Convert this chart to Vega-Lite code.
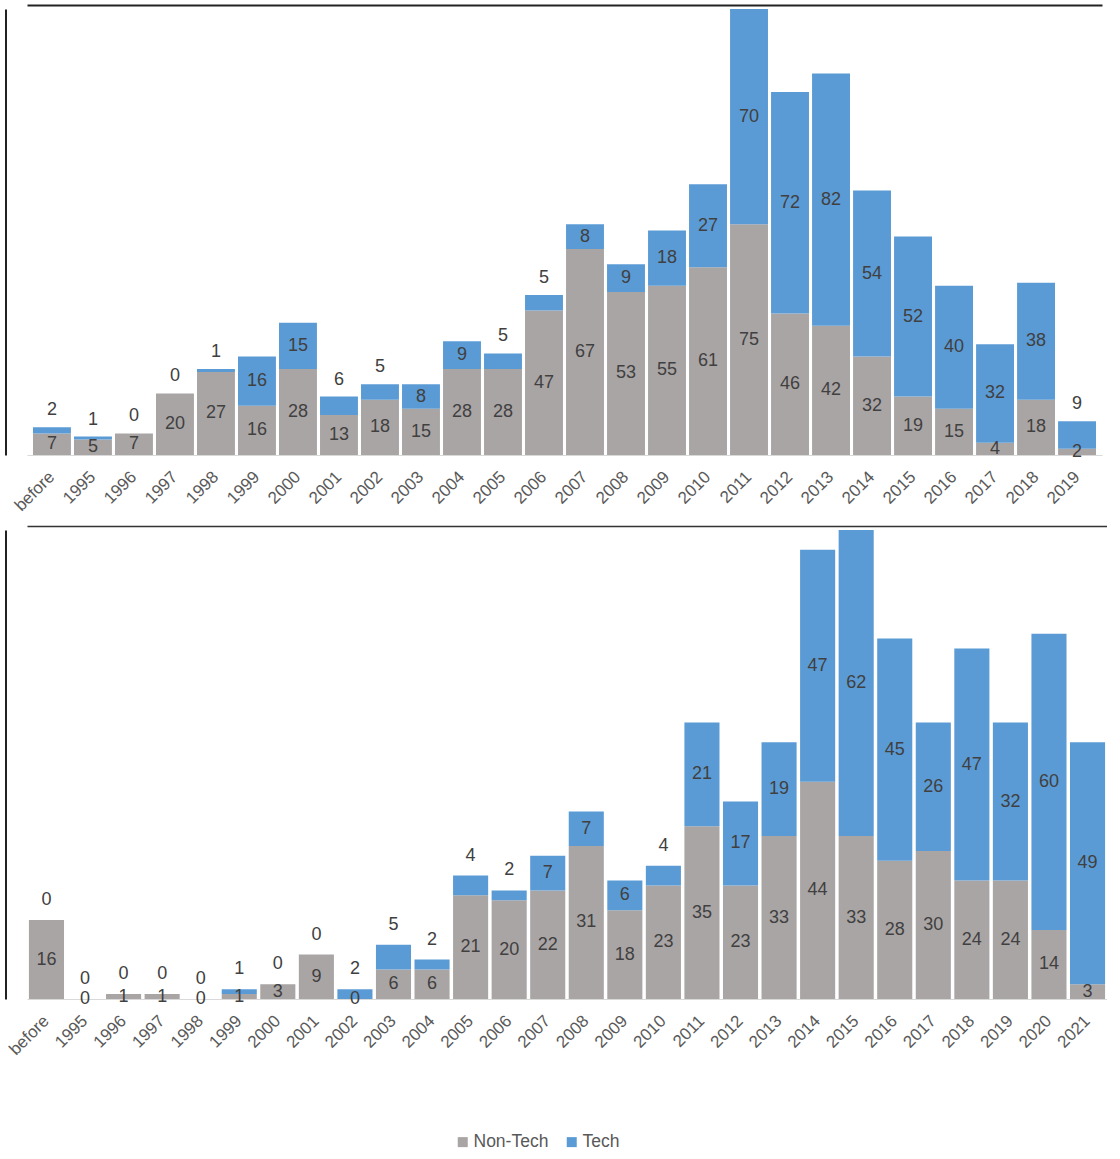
{
  "$schema": "https://vega.github.io/schema/vega-lite/v6.json",
  "padding": {"left": 5, "top": 5, "right": 0, "bottom": 0},
  "background": "white",
  "config": {
    "view": {"stroke": null},
    "font": "Liberation Sans",
    "axis": {"grid": false},
    "text": {"font": "Liberation Sans"}
  },
  "datasets": {
    "top": [
      {"period": "before", "group": "Non-Tech", "count": 7}, {"period": "before", "group": "Tech", "count": 2},
      {"period": "1995", "group": "Non-Tech", "count": 5}, {"period": "1995", "group": "Tech", "count": 1},
      {"period": "1996", "group": "Non-Tech", "count": 7}, {"period": "1996", "group": "Tech", "count": 0},
      {"period": "1997", "group": "Non-Tech", "count": 20}, {"period": "1997", "group": "Tech", "count": 0},
      {"period": "1998", "group": "Non-Tech", "count": 27}, {"period": "1998", "group": "Tech", "count": 1},
      {"period": "1999", "group": "Non-Tech", "count": 16}, {"period": "1999", "group": "Tech", "count": 16},
      {"period": "2000", "group": "Non-Tech", "count": 28}, {"period": "2000", "group": "Tech", "count": 15},
      {"period": "2001", "group": "Non-Tech", "count": 13}, {"period": "2001", "group": "Tech", "count": 6},
      {"period": "2002", "group": "Non-Tech", "count": 18}, {"period": "2002", "group": "Tech", "count": 5},
      {"period": "2003", "group": "Non-Tech", "count": 15}, {"period": "2003", "group": "Tech", "count": 8},
      {"period": "2004", "group": "Non-Tech", "count": 28}, {"period": "2004", "group": "Tech", "count": 9},
      {"period": "2005", "group": "Non-Tech", "count": 28}, {"period": "2005", "group": "Tech", "count": 5},
      {"period": "2006", "group": "Non-Tech", "count": 47}, {"period": "2006", "group": "Tech", "count": 5},
      {"period": "2007", "group": "Non-Tech", "count": 67}, {"period": "2007", "group": "Tech", "count": 8},
      {"period": "2008", "group": "Non-Tech", "count": 53}, {"period": "2008", "group": "Tech", "count": 9},
      {"period": "2009", "group": "Non-Tech", "count": 55}, {"period": "2009", "group": "Tech", "count": 18},
      {"period": "2010", "group": "Non-Tech", "count": 61}, {"period": "2010", "group": "Tech", "count": 27},
      {"period": "2011", "group": "Non-Tech", "count": 75}, {"period": "2011", "group": "Tech", "count": 70},
      {"period": "2012", "group": "Non-Tech", "count": 46}, {"period": "2012", "group": "Tech", "count": 72},
      {"period": "2013", "group": "Non-Tech", "count": 42}, {"period": "2013", "group": "Tech", "count": 82},
      {"period": "2014", "group": "Non-Tech", "count": 32}, {"period": "2014", "group": "Tech", "count": 54},
      {"period": "2015", "group": "Non-Tech", "count": 19}, {"period": "2015", "group": "Tech", "count": 52},
      {"period": "2016", "group": "Non-Tech", "count": 15}, {"period": "2016", "group": "Tech", "count": 40},
      {"period": "2017", "group": "Non-Tech", "count": 4}, {"period": "2017", "group": "Tech", "count": 32},
      {"period": "2018", "group": "Non-Tech", "count": 18}, {"period": "2018", "group": "Tech", "count": 38},
      {"period": "2019", "group": "Non-Tech", "count": 2}, {"period": "2019", "group": "Tech", "count": 9}
    ],
    "bottom": [
      {"period": "before", "group": "Non-Tech", "count": 16}, {"period": "before", "group": "Tech", "count": 0},
      {"period": "1995", "group": "Non-Tech", "count": 0}, {"period": "1995", "group": "Tech", "count": 0},
      {"period": "1996", "group": "Non-Tech", "count": 1}, {"period": "1996", "group": "Tech", "count": 0},
      {"period": "1997", "group": "Non-Tech", "count": 1}, {"period": "1997", "group": "Tech", "count": 0},
      {"period": "1998", "group": "Non-Tech", "count": 0}, {"period": "1998", "group": "Tech", "count": 0},
      {"period": "1999", "group": "Non-Tech", "count": 1}, {"period": "1999", "group": "Tech", "count": 1},
      {"period": "2000", "group": "Non-Tech", "count": 3}, {"period": "2000", "group": "Tech", "count": 0},
      {"period": "2001", "group": "Non-Tech", "count": 9}, {"period": "2001", "group": "Tech", "count": 0},
      {"period": "2002", "group": "Non-Tech", "count": 0}, {"period": "2002", "group": "Tech", "count": 2},
      {"period": "2003", "group": "Non-Tech", "count": 6}, {"period": "2003", "group": "Tech", "count": 5},
      {"period": "2004", "group": "Non-Tech", "count": 6}, {"period": "2004", "group": "Tech", "count": 2},
      {"period": "2005", "group": "Non-Tech", "count": 21}, {"period": "2005", "group": "Tech", "count": 4},
      {"period": "2006", "group": "Non-Tech", "count": 20}, {"period": "2006", "group": "Tech", "count": 2},
      {"period": "2007", "group": "Non-Tech", "count": 22}, {"period": "2007", "group": "Tech", "count": 7},
      {"period": "2008", "group": "Non-Tech", "count": 31}, {"period": "2008", "group": "Tech", "count": 7},
      {"period": "2009", "group": "Non-Tech", "count": 18}, {"period": "2009", "group": "Tech", "count": 6},
      {"period": "2010", "group": "Non-Tech", "count": 23}, {"period": "2010", "group": "Tech", "count": 4},
      {"period": "2011", "group": "Non-Tech", "count": 35}, {"period": "2011", "group": "Tech", "count": 21},
      {"period": "2012", "group": "Non-Tech", "count": 23}, {"period": "2012", "group": "Tech", "count": 17},
      {"period": "2013", "group": "Non-Tech", "count": 33}, {"period": "2013", "group": "Tech", "count": 19},
      {"period": "2014", "group": "Non-Tech", "count": 44}, {"period": "2014", "group": "Tech", "count": 47},
      {"period": "2015", "group": "Non-Tech", "count": 33}, {"period": "2015", "group": "Tech", "count": 62},
      {"period": "2016", "group": "Non-Tech", "count": 28}, {"period": "2016", "group": "Tech", "count": 45},
      {"period": "2017", "group": "Non-Tech", "count": 30}, {"period": "2017", "group": "Tech", "count": 26},
      {"period": "2018", "group": "Non-Tech", "count": 24}, {"period": "2018", "group": "Tech", "count": 47},
      {"period": "2019", "group": "Non-Tech", "count": 24}, {"period": "2019", "group": "Tech", "count": 32},
      {"period": "2020", "group": "Non-Tech", "count": 14}, {"period": "2020", "group": "Tech", "count": 60},
      {"period": "2021", "group": "Non-Tech", "count": 3}, {"period": "2021", "group": "Tech", "count": 49}
    ]
  },
  "bounds": "flush",
  "spacing": 75,
  "vconcat": [
    {
      "width": 1075,
      "height": 446,
      "data": {"name": "top"},
      "transform": [
        {"stack": "count", "groupby": ["period"], "sort": [{"field": "group", "order": "ascending"}], "as": ["y0", "y1"]},
        {"joinaggregate": [{"op": "sum", "field": "count", "as": "total"}], "groupby": ["period"]},
        {"calculate": "(datum.y0 + datum.y1) / 2", "as": "mid"}
      ],
      "resolve": {"axis": {"x": "independent", "y": "independent"}},
      "layer": [
        {
          "mark": {"type": "bar"},
          "encoding": {
            "x": {"field": "period", "type": "ordinal", "sort": null, "title": null,
              "scale": {"paddingInner": 0.075, "paddingOuter": 0.146},
              "axis": {"labelAngle": -45, "labelFontSize": 17, "labelColor": "#595959", "labelBaseline": "middle", "ticks": false, "domainColor": "#d9d9d9", "labelPadding": 19}},
            "y": {"field": "y1", "type": "quantitative", "title": null,
              "scale": {"domain": [0, 145], "nice": false, "zero": true},
              "axis": {"orient": "left", "offset": 21.5, "labels": false, "ticks": false, "domainColor": "#222222", "domainWidth": 2}},
            "y2": {"field": "y0"},
            "color": {"field": "group", "type": "nominal", "title": null,
              "scale": {"domain": ["Non-Tech", "Tech"], "range": ["#aaa5a5", "#5b9bd5"]},
              "legend": {"orient": "none", "direction": "horizontal", "legendX": 427, "legendY": 1124,
                "symbolType": "square", "symbolSize": 100, "symbolStrokeWidth": 0, "labelFontSize": 17.5,
                "labelColor": "#595959", "columnPadding": 14, "labelOffset": 2}}
          }
        },
        {
          "transform": [{"filter": "datum.group == 'Non-Tech' || (datum.count >= 8 && datum.total >= 15)"}],
          "mark": {"type": "text", "fontSize": 18, "color": "#404040", "baseline": "middle"},
          "encoding": {
            "x": {"field": "period", "type": "ordinal", "sort": null, "title": null,
              "axis": {"orient": "top", "labels": false, "ticks": false, "offset": 4, "domainColor": "#222222", "domainWidth": 2}},
            "y": {"field": "mid", "type": "quantitative", "axis": null},
            "text": {"field": "count", "type": "quantitative"}
          }
        },
        {
          "transform": [{"filter": "datum.group == 'Tech' && (datum.count < 8 || datum.total < 15)"}],
          "mark": {"type": "text", "fontSize": 18, "color": "#404040", "baseline": "middle", "dy": -17},
          "encoding": {
            "x": {"field": "period", "type": "ordinal", "sort": null, "axis": null},
            "y": {"field": "y1", "type": "quantitative", "axis": null},
            "text": {"field": "count", "type": "quantitative"}
          }
        }
      ]
    },
    {
      "width": 1080,
      "height": 469,
      "data": {"name": "bottom"},
      "transform": [
        {"stack": "count", "groupby": ["period"], "sort": [{"field": "group", "order": "ascending"}], "as": ["y0", "y1"]},
        {"calculate": "(datum.y0 + datum.y1) / 2", "as": "mid"}
      ],
      "resolve": {"axis": {"x": "independent", "y": "independent"}},
      "layer": [
        {
          "mark": {"type": "bar"},
          "encoding": {
            "x": {"field": "period", "type": "ordinal", "sort": null, "title": null,
              "scale": {"paddingInner": 0.09, "paddingOuter": 0.05},
              "axis": {"labelAngle": -45, "labelFontSize": 17, "labelColor": "#595959", "labelBaseline": "middle", "ticks": false, "domainColor": "#d9d9d9", "labelPadding": 19}},
            "y": {"field": "y1", "type": "quantitative", "title": null,
              "scale": {"domain": [0, 95], "nice": false, "zero": true},
              "axis": {"orient": "left", "offset": 21.5, "labels": false, "ticks": false, "domainColor": "#222222", "domainWidth": 2}},
            "y2": {"field": "y0"},
            "color": {"field": "group", "type": "nominal", "title": null,
              "scale": {"domain": ["Non-Tech", "Tech"], "range": ["#aaa5a5", "#5b9bd5"]}}
          }
        },
        {
          "transform": [{"filter": "datum.group == 'Non-Tech' || datum.count > 5"}],
          "mark": {"type": "text", "fontSize": 18, "color": "#404040", "baseline": "middle"},
          "encoding": {
            "x": {"field": "period", "type": "ordinal", "sort": null, "title": null,
              "axis": {"orient": "top", "labels": false, "ticks": false, "offset": 4, "domainColor": "#333333", "domainWidth": 1.5}},
            "y": {"field": "mid", "type": "quantitative", "axis": null},
            "text": {"field": "count", "type": "quantitative"}
          }
        },
        {
          "transform": [{"filter": "datum.group == 'Tech' && datum.count <= 5"}],
          "mark": {"type": "text", "fontSize": 18, "color": "#404040", "baseline": "middle", "dy": -20},
          "encoding": {
            "x": {"field": "period", "type": "ordinal", "sort": null, "axis": null},
            "y": {"field": "y1", "type": "quantitative", "axis": null},
            "text": {"field": "count", "type": "quantitative"}
          }
        }
      ]
    }
  ]
}
